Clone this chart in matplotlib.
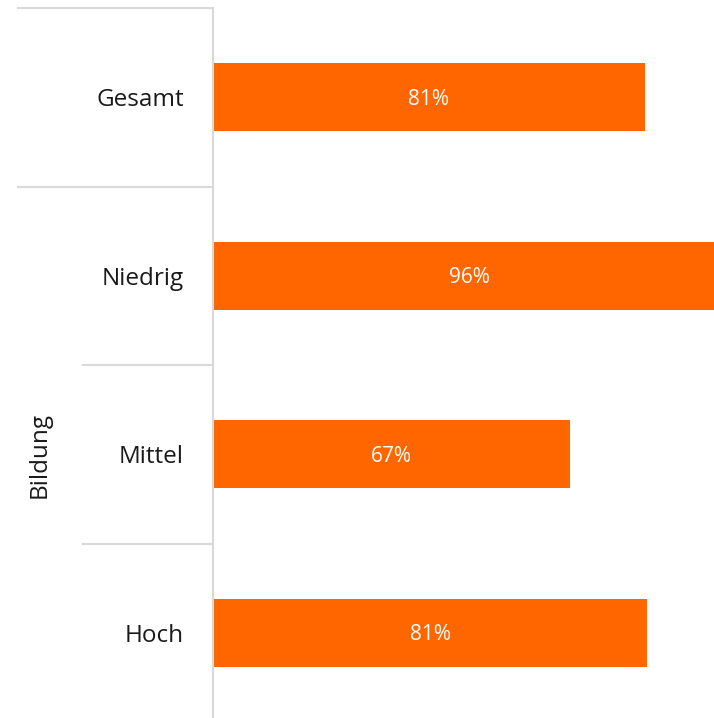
import matplotlib.pyplot as plt
import matplotlib.transforms as mtransforms

# Data
categories = ['Gesamt', 'Niedrig', 'Mittel', 'Hoch']
values = [81, 96, 67, 81.4]
labels = ['81%', '96%', '67%', '81%']
group_label = 'Bildung'

plt.rcParams['font.family'] = ['Open Sans', 'DejaVu Sans']

W, H = 714, 718
fig = plt.figure(figsize=(W / 100, H / 100), dpi=100)
ax = fig.add_axes([213 / W, (H - 722) / H, (W - 213) / W, 714 / H])

pos = list(range(len(categories)))
ax.barh(pos, values, height=0.38, color='#FF6600')
ax.set_ylim(3.5, -0.5)
ax.set_xlim(0, 93.95)

for p, v, lab in zip(pos, values, labels):
    ax.text(v / 2, p + 0.01, lab, ha='center', va='center', color='white', fontsize=15)

ax.set_yticks(pos)
ax.set_yticklabels(categories, fontsize=17.5, color='#1a1a1a')
ax.tick_params(axis='y', length=0, pad=21)
ax.set_xticks([])

for s in ['top', 'right', 'bottom']:
    ax.spines[s].set_visible(False)
ax.spines['left'].set_color('#d9d9d9')
ax.spines['left'].set_linewidth(1.5)

# separator lines in the label area
trans = mtransforms.blended_transform_factory(fig.transFigure, ax.transData)
for y, x0 in [(-0.5, 18), (0.5, 18), (1.5, 83), (2.5, 83)]:
    ax.plot([x0 / W, 213 / W], [y, y], color='#d9d9d9', lw=1.5,
            transform=trans, clip_on=False)

fig.text(40 / W, (H - 455) / H, group_label, rotation=90, ha='center',
         va='center', fontsize=17.5, color='#1a1a1a')

fig.savefig('out.png', dpi=100)
